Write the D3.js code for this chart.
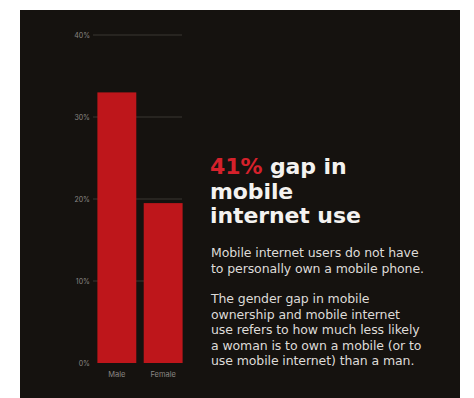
<!DOCTYPE html>
<html>
<head>
<meta charset="utf-8">
<script src="https://cdn.jsdelivr.net/npm/d3@7"></script>
<style>
  html, body { margin: 0; padding: 0; background: #ffffff; }
  svg { display: block; }
</style>
</head>
<body>
<svg id="chart" width="474" height="398"></svg>
<script>
// Share of people using mobile internet, by gender (%)
const categories = ["Male", "Female"];
const values = [33, 19.5];
const tickValues = [0, 10, 20, 30, 40];
const tickLabels = ["0%", "10%", "20%", "30%", "40%"];

const headlineLines = [
  [{ text: "41%", red: true }, { text: " gap in", red: false }],
  [{ text: "mobile", red: false }],
  [{ text: "internet use", red: false }]
];
const bodyParagraphs = [
  ["Mobile internet users do not have", "to personally own a mobile phone."],
  ["The gender gap in mobile", "ownership and mobile internet", "use refers to how much less likely",
   "a woman is to own a mobile (or to", "use mobile internet) than a man."]
];

const svg = d3.select("#chart");

// dark panel
svg.append("rect")
  .attr("x", 20).attr("y", 10)
  .attr("width", 440).attr("height", 388)
  .attr("fill", "#15120f");

const y = d3.scaleLinear().domain([0, 40]).range([363, 35]);
const x = d3.scaleBand().domain(categories).range([96, 184]).paddingInner(0.16).paddingOuter(0.03);

// gridlines
svg.append("g")
  .selectAll("line")
  .data(tickValues.filter(d => d > 0))
  .join("line")
  .attr("x1", 93).attr("x2", 182)
  .attr("y1", d => y(d)).attr("y2", d => y(d))
  .attr("stroke", "#3a3733")
  .attr("stroke-width", 1);

// y axis labels
const yAxis = d3.axisLeft(y)
  .tickValues(tickValues)
  .tickFormat((d, i) => tickLabels[i])
  .tickSize(0)
  .tickPadding(0);
svg.append("g")
  .attr("transform", "translate(90,0)")
  .call(yAxis)
  .call(g => g.select(".domain").remove())
  .call(g => g.selectAll("text")
    .attr("fill", "#8a8784")
    .style("font-family", "Inter, 'Open Sans', sans-serif")
    .style("font-size", "7px"));

// bars
svg.append("g")
  .selectAll("rect")
  .data(values)
  .join("rect")
  .attr("x", (d, i) => x(categories[i]))
  .attr("width", x.bandwidth())
  .attr("y", d => y(d))
  .attr("height", d => y(0) - y(d))
  .attr("fill", "#be161b");

// x axis labels
const xAxis = d3.axisBottom(x).tickSize(0).tickPadding(0);
svg.append("g")
  .attr("transform", "translate(0,372)")
  .call(xAxis)
  .call(g => g.select(".domain").remove())
  .call(g => g.selectAll("text")
    .attr("fill", "#8a8784")
    .style("font-family", "Inter, 'Open Sans', sans-serif")
    .style("font-size", "7.5px"));

// headline, one text element per line
headlineLines.forEach((line, li) => {
  const t = svg.append("text")
    .attr("x", 210)
    .attr("y", 174 + li * 24.5)
    .style("font-family", "'DejaVu Sans', sans-serif")
    .style("font-weight", 700)
    .style("font-size", "22px")
    .style("letter-spacing", "-0.1px");
  line.forEach(seg => {
    t.append("tspan").text(seg.text)
      .attr("fill", seg.red ? "#d5212b" : "#f4f2f0");
  });
});

// body paragraphs
const body = svg.append("g")
  .style("font-family", "'DejaVu Sans', sans-serif")
  .style("font-size", "12.5px")
  .style("letter-spacing", "-0.1px")
  .attr("fill", "#dedbd8");
const paraStarts = [257, 303];
bodyParagraphs.forEach((para, pi) => {
  para.forEach((line, li) => {
    body.append("text")
      .attr("x", 211)
      .attr("y", paraStarts[pi] + li * 15.5)
      .text(line);
  });
});
</script>
</body>
</html>
